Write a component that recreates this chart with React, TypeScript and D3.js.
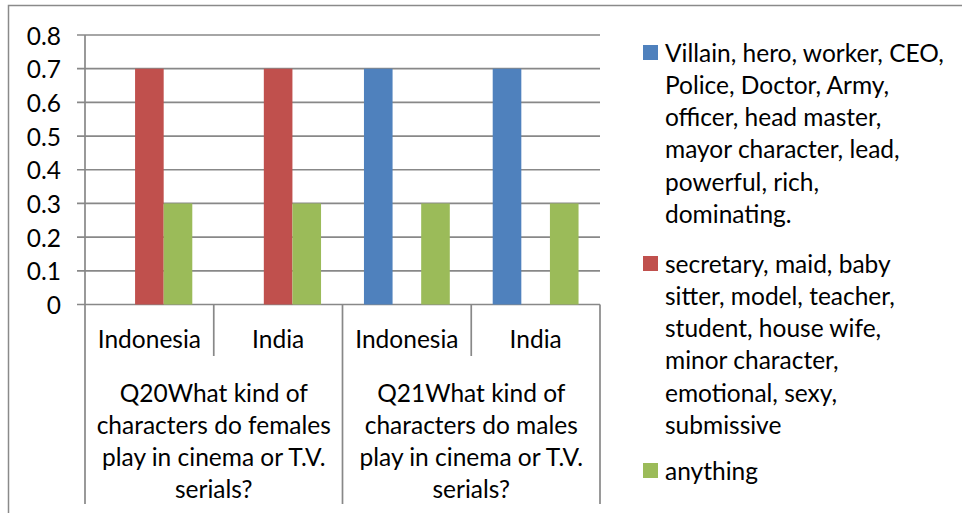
import React from "react";
import * as d3 from "d3";

const countries = ["Indonesia", "India", "Indonesia", "India"];
const groupLabels = [
  ["Q20What kind of", "characters do females", "play in cinema or T.V.", "serials?"],
  ["Q21What kind of", "characters do males", "play in cinema or T.V.", "serials?"],
];
const seriesNames = ["villain", "secretary", "anything"];
const villainValues = [0, 0, 0.7, 0.7];
const secretaryValues = [0.7, 0.7, 0, 0];
const anythingValues = [0.3, 0.3, 0.3, 0.3];
const seriesColors = ["#4F81BD", "#C0504D", "#9BBB59"];
const legendLines = [
  ["Villain, hero, worker, CEO,", "Police, Doctor, Army,", "officer, head master,", "mayor character, lead,", "powerful, rich,", "dominating."],
  ["secretary, maid, baby", "sitter, model, teacher,", "student, house wife,", "minor character,", "emotional, sexy,", "submissive"],
  ["anything"],
];
const yTicks = [0, 0.1, 0.2, 0.3, 0.4, 0.5, 0.6, 0.7, 0.8];

const W = 962;
const H = 513;
const font = "Lato, 'Open Sans', sans-serif";
const grid = "#888888";
const fs = 24.5;

export default function App() {
  const left = 85;
  const right = 600;
  const top = 35;
  const bottom = 304.5;

  const x0 = d3.scaleBand<number>().domain(d3.range(countries.length)).range([left, right]);
  const bw = x0.bandwidth() / (seriesNames.length + 1.5);
  const x1 = d3
    .scaleBand<string>()
    .domain(seriesNames)
    .range([0.75 * bw, x0.bandwidth() - 0.75 * bw]);
  const y = d3.scaleLinear().domain([0, 0.8]).range([bottom, top]);

  const values = [villainValues, secretaryValues, anythingValues];
  const legendStarts = [52, 263, 470];
  const lineH = 32.3;

  return (
    <svg width={W} height={H} style={{ position: "absolute", left: 0, top: 0, background: "#fff" }}>
      {/* outer border (cropped at right and bottom) */}
      <path d={`M8.5,${H} V5.5 H${W}`} fill="none" stroke="#8a8a8a" strokeWidth={1.5} />

      {/* gridlines + ticks */}
      {yTicks.map((t) => (
        <g key={t}>
          <line x1={77} x2={right} y1={y(t)} y2={y(t)} stroke={grid} strokeWidth={1.7} />
          <text
            x={61}
            y={y(t)}
            textAnchor="end"
            dominantBaseline="central"
            fontFamily={font}
            fontSize={fs}
            fill="#000"
          >
            {t === 0 ? "0" : d3.format(".1f")(t)}
          </text>
        </g>
      ))}
      <line x1={left} x2={left} y1={top} y2={bottom} stroke={grid} strokeWidth={1.7} />

      {/* bars */}
      {values.map((vals, si) =>
        vals.map((v, ci) =>
          v > 0 ? (
            <rect
              key={`${si}-${ci}`}
              x={(x0(ci) ?? 0) + (x1(seriesNames[si]) ?? 0)}
              width={x1.bandwidth()}
              y={y(v)}
              height={y(0) - y(v)}
              fill={seriesColors[si]}
            />
          ) : null
        )
      )}

      {/* category axis: separators */}
      {d3.range(countries.length + 1).map((i) => {
        const xx = i < countries.length ? x0(i) ?? 0 : right;
        const major = i % 2 === 0;
        return (
          <line
            key={i}
            x1={xx}
            x2={xx}
            y1={bottom}
            y2={major ? 504 : 356}
            stroke={grid}
            strokeWidth={1.7}
          />
        );
      })}
      {countries.map((c, i) => (
        <text
          key={i}
          x={(x0(i) ?? 0) + x0.bandwidth() / 2}
          y={338}
          textAnchor="middle"
          dominantBaseline="central"
          fontFamily={font}
          fontSize={fs}
          fill="#000"
        >
          {c}
        </text>
      ))}
      {groupLabels.map((lines, gi) => {
        const cx = ((x0(gi * 2) ?? 0) + (gi * 2 + 2 < countries.length ? x0(gi * 2 + 2) ?? 0 : right)) / 2;
        return lines.map((l, li) => (
          <text
            key={`${gi}-${li}`}
            x={cx}
            y={392 + li * 32}
            textAnchor="middle"
            dominantBaseline="central"
            fontFamily={font}
            fontSize={fs}
            fill="#000"
          >
            {l}
          </text>
        ));
      })}

      {/* legend */}
      {legendLines.map((lines, si) => (
        <g key={si}>
          <rect x={643} y={legendStarts[si] - 7} width={15} height={15} fill={seriesColors[si]} />
          {lines.map((l, li) => (
            <text
              key={li}
              x={665}
              y={legendStarts[si] + li * lineH}
              dominantBaseline="central"
              fontFamily={font}
              fontSize={fs}
              fill="#000"
            >
              {l}
            </text>
          ))}
        </g>
      ))}
    </svg>
  );
}
